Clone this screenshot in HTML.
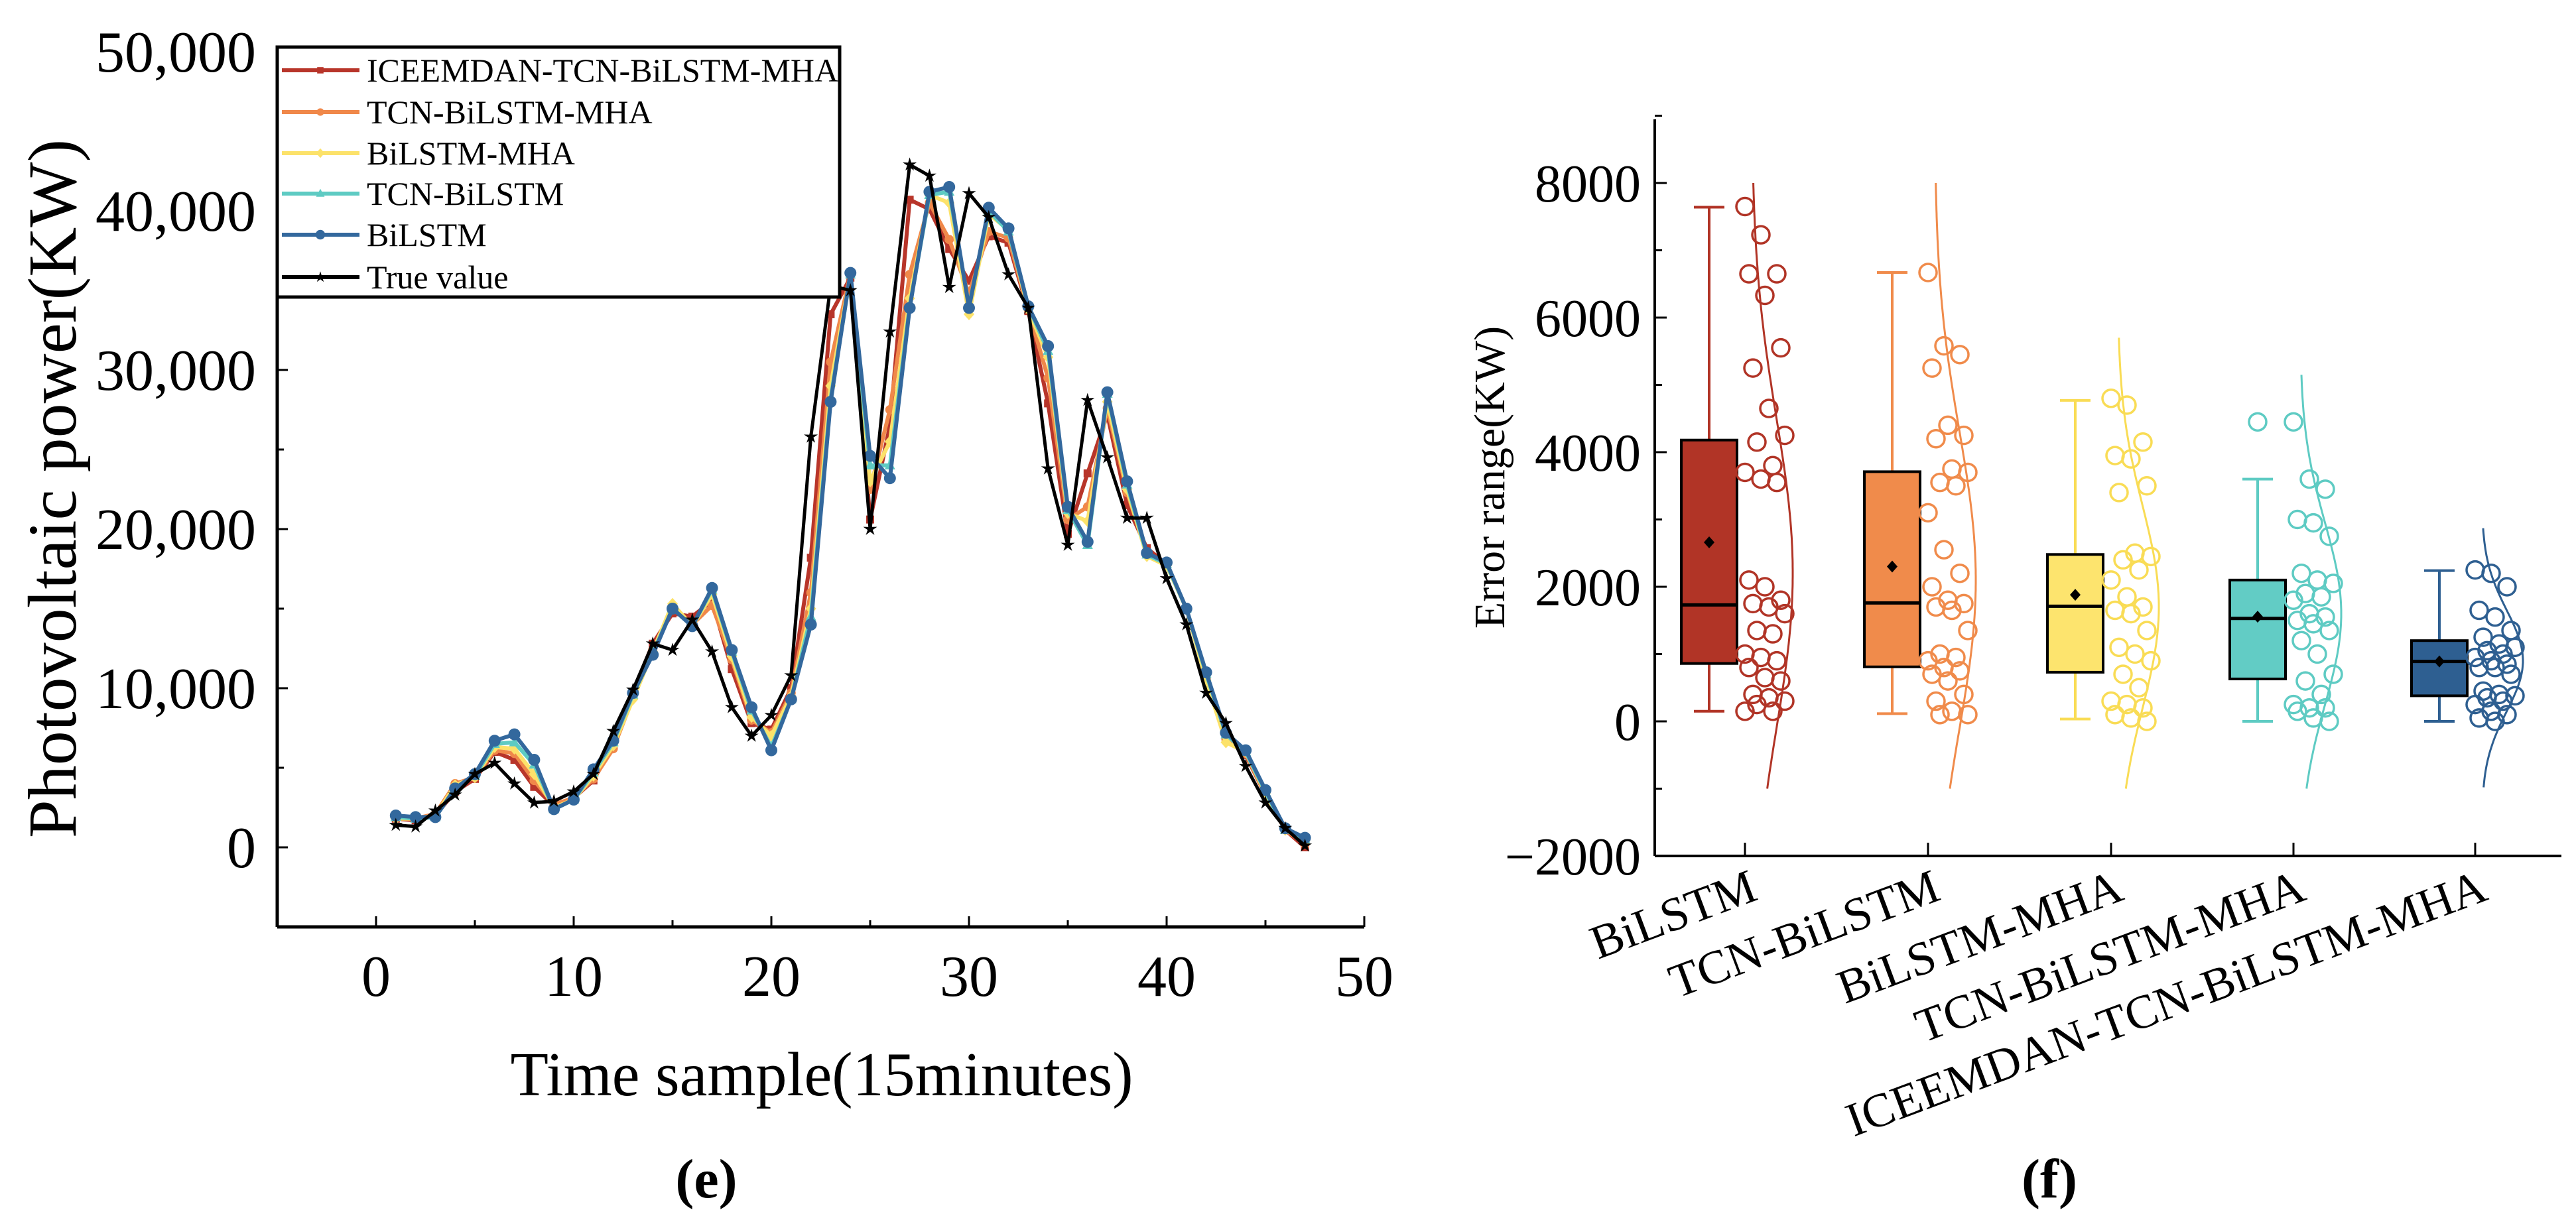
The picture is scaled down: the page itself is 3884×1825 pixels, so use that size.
<!DOCTYPE html>
<html><head><meta charset="utf-8">
<style>
html,body{margin:0;padding:0;background:#fff;}
svg{display:block;font-family:"Liberation Serif",serif;}
</style></head>
<body>
<svg id="root" width="3884" height="1825" viewBox="0 0 3884 1825" xmlns="http://www.w3.org/2000/svg">
<g id="left"></g>
<g id="right"></g>
</svg>
<script>
// ---------- Left chart data ----------
const xSamples = [1,2,3,4,5,6,7,8,9,10,11,12,13,14,15,16,17,18,19,20,21,22,23,24,25,26,27,28,29,30,31,32,33,34,35,36,37,38,39,40,41,42,43,44,45,46,47];
const trueValue = [1400,1300,2300,3300,4600,5300,4000,2800,2900,3500,4600,7300,9900,12800,12400,14300,12300,8800,7000,8300,10800,25800,35300,35000,20000,32400,42900,42200,35200,41100,39600,36000,33900,23800,19000,28100,24500,20700,20700,16900,14000,9700,7800,5100,2800,1200,100];
const bilstm = [2000,1900,1900,3700,4600,6700,7100,5500,2400,3000,4900,6700,9700,12100,15000,13900,16300,12400,8800,6100,9300,14000,28000,36100,24600,23200,33900,41200,41500,33900,40200,38900,34000,31500,21400,19200,28600,23000,18500,17900,15000,11000,7200,6100,3600,1200,600];
const tcnBilstm = [1900,1800,1900,3700,4500,6500,6600,5200,2400,3000,4700,6600,9600,12200,15000,13900,16200,12300,8600,6300,9300,14500,28200,36000,24000,24000,34000,41000,41200,34000,40000,38700,34000,31200,21200,19000,28500,22800,18400,17800,15000,10900,7100,6000,3500,1100,500];
const bilstmMha = [1800,1800,2000,3900,4400,6300,6200,4600,2500,3000,4500,6400,9300,12300,15300,13900,15900,12000,8200,7000,9500,15000,29000,36000,23000,25500,34500,41000,40500,33500,39800,38800,33800,30800,21000,20500,28000,22500,18300,17700,15000,10500,6600,6000,3400,1100,400];
const tcnBilstmMha = [1900,1800,2100,4000,4400,6100,5900,4200,2700,3100,4300,6200,9400,12400,15100,14000,15200,11800,8000,7200,9700,16000,30500,36000,22500,27500,36000,40500,38200,34800,38700,38300,33800,29500,20600,21400,27600,22300,18500,17800,15000,10600,6800,5900,3300,1100,200];
const iceemdan = [1800,1700,2000,3500,4300,6000,5500,3800,2600,3100,4200,6500,9700,12800,14700,14500,15500,11200,7800,7400,10000,18200,33500,35800,20600,26500,40700,40100,37600,35600,38400,38000,33700,27900,19700,23500,27200,21500,18800,17800,15000,10600,7000,5800,3300,1100,0];
const yTicksL = [0,10000,20000,30000,40000,50000];
const yTickLabelsL = ["0","10,000","20,000","30,000","40,000","50,000"];
const xTicksL = [0,10,20,30,40,50];
const legendNames = ["ICEEMDAN-TCN-BiLSTM-MHA","TCN-BiLSTM-MHA","BiLSTM-MHA","TCN-BiLSTM","BiLSTM","True value"];

// ---------- Right chart data ----------
const categories = ["BiLSTM","TCN-BiLSTM","BiLSTM-MHA","TCN-BiLSTM-MHA","ICEEMDAN-TCN-BiLSTM-MHA"];
const whiskerHigh = [7640,6670,4770,3600,2240];
const q3 = [4180,3710,2480,2100,1200];
const median = [1730,1760,1710,1530,890];
const q1 = [860,810,730,630,380];
const whiskerLow = [150,115,35,0,0];
const means = [2660,2300,1880,1555,890];
const outliers = [[],[],[],[4450],[]];
const curveTop = [8000,8000,5700,5150,2870];
const curveMu = [2200,2100,1700,1600,900];
const curveSigma = [2300,2200,1500,1350,750];
const pts0 = [7650,7230,6650,6650,6330,5550,5250,4650,4250,4150,3800,3700,3600,3550,2100,2000,1800,1750,1700,1600,1350,1300,1000,950,900,800,650,600,400,350,300,250,150,150];
const pts1 = [6670,5580,5450,5250,4400,4250,4200,3750,3700,3550,3500,3100,2550,2200,2000,1800,1750,1700,1650,1350,1000,950,900,800,750,700,600,400,300,150,100,100];
const pts2 = [4800,4700,4150,3950,3900,3500,3400,2500,2450,2400,2250,2100,1850,1700,1650,1600,1350,1100,1000,900,700,500,300,250,200,100,50,0];
const pts3 = [4450,3600,3450,3000,2950,2750,2200,2100,2050,1900,1850,1800,1600,1550,1500,1450,1350,1200,1000,700,600,400,250,200,200,150,50,0];
const pts4 = [2250,2200,2000,1650,1550,1350,1250,1150,1100,1050,1000,950,900,850,800,800,700,450,400,380,350,300,250,150,100,50,0];
const yTicksR = [-2000,0,2000,4000,6000,8000];

const NS="http://www.w3.org/2000/svg";
function mk(tag,parent,attrs){const e=document.createElementNS(NS,tag);for(const k in attrs)e.setAttribute(k,attrs[k]);parent.appendChild(e);return e;}

// ===== LEFT =====
(function(){
const g=document.getElementById('left');
const X=v=>567+v*29.8, Y=v=>1278-v*0.024;
const x0=X(-5), x1=X(50), yb=Y(-5000), yt=70;
let ax=mk('line',g,{x1:x0,y1:yb,x2:x1,y2:yb,stroke:'#000','stroke-width':5});

let ay=mk('line',g,{x1:x0,y1:yb,x2:x0,y2:yt,stroke:'#000','stroke-width':5});

for(let v=0;v<=50;v+=5){const l=mk('line',g,{x1:X(v),y1:yb,x2:X(v),y2:yb-(v%10===0?16:10),stroke:'#000','stroke-width':3});
}
xTicksL.forEach(v=>{const t=mk('text',g,{x:X(v),y:1502,'text-anchor':'middle','font-size':88});t.textContent=v;
});
for(let v=-5000;v<=50000;v+=5000){const l=mk('line',g,{x1:x0,y1:Y(v),x2:x0+(v%10000===0?16:10),y2:Y(v),stroke:'#000','stroke-width':3});
}
yTicksL.forEach((v,i)=>{const t=mk('text',g,{x:386,y:Y(v)+30,'text-anchor':'end','font-size':88});t.textContent=yTickLabelsL[i];
});
let yl=mk('text',g,{x:0,y:0,'text-anchor':'middle','font-size':104,transform:'translate(114,737) rotate(-90)'});yl.textContent='Photovoltaic power(KW)';

let xl=mk('text',g,{x:1239,y:1652,'text-anchor':'middle','font-size':94});xl.textContent='Time sample(15minutes)';

let cap=mk('text',g,{x:1065,y:1806,'text-anchor':'middle','font-size':84,'font-weight':'bold'});cap.textContent='(e)';


const series=[
 {d:iceemdan,c:'#b8352a',m:'sq',n:'series-iceemdan'},
 {d:tcnBilstmMha,c:'#f0884a',m:'ci',n:'series-tcn-bilstm-mha'},
 {d:bilstmMha,c:'#fce26a',m:'di',n:'series-bilstm-mha'},
 {d:tcnBilstm,c:'#5ecbc3',m:'tr',n:'series-tcn-bilstm'},
 {d:bilstm,c:'#33689d',m:'big',n:'series-bilstm'},
 {d:trueValue,c:'#000',m:'st',n:'series-true-value'}];
function marker(par,m,cx,cy,c,s){
 s=s||1;let e;
 if(m==='sq')e=mk('rect',par,{x:cx-6*s,y:cy-6*s,width:12*s,height:12*s,fill:c});
 else if(m==='ci')e=mk('circle',par,{cx:cx,cy:cy,r:7*s,fill:c});
 else if(m==='big')e=mk('circle',par,{cx:cx,cy:cy,r:9*s,fill:c});
 else if(m==='di')e=mk('polygon',par,{points:`${cx},${cy-9*s} ${cx+8*s},${cy} ${cx},${cy+9*s} ${cx-8*s},${cy}`,fill:c});
 else if(m==='tr')e=mk('polygon',par,{points:`${cx},${cy-9*s} ${cx+8*s},${cy+6*s} ${cx-8*s},${cy+6*s}`,fill:c});
 else {let p=[];for(let k=0;k<10;k++){const r=k%2?4*s:11*s;const a=-Math.PI/2+k*Math.PI/5;p.push((cx+r*Math.cos(a)).toFixed(1)+','+(cy+r*Math.sin(a)).toFixed(1));}
  e=mk('polygon',par,{points:p.join(' '),fill:c});}
 return e;}
series.forEach(s=>{
 const sg=mk('g',g,{});
 const pl=mk('polyline',sg,{points:s.d.map((v,i)=>X(xSamples[i])+','+Y(v)).join(' '),fill:'none',stroke:s.c,'stroke-width':s.m==='st'?5:6,'stroke-linejoin':'round'});
 
 s.d.forEach((v,i)=>{const e=marker(sg,s.m,X(xSamples[i]),Y(v),s.c);
  });
});
const lg=mk('g',g,{});
const lb=mk('rect',lg,{x:418,y:71,width:848,height:377,fill:'#fff',stroke:'#000','stroke-width':5});

const rowsY=[106,169,231,292,354,418];
legendNames.forEach((n,i)=>{const s=series[i];const e=mk('g',lg,{});
 
 mk('line',e,{x1:425,y1:rowsY[i],x2:542,y2:rowsY[i],stroke:s.c,'stroke-width':6});
 marker(e,s.m,483,rowsY[i],s.c,0.8);
 const t=mk('text',e,{x:553,y:rowsY[i]+17,'font-size':50});t.textContent=n;});
})();

// ===== RIGHT =====
(function(){
const g=document.getElementById('right');
const Y=v=>1088-v*0.1015;
const ticksX=[2631,2907,3183,3458,3732];
const colors=['#b13426','#f08b4b','#fde46e','#62ccc5','#2e5f91'];
const strokes=['#b13426','#f08b4b','#f9dc55','#5ecbc3','#2e5f91'];
const pts=[pts0,pts1,pts2,pts3,pts4];
const axX=2495, axB=Y(-2000);
let a1=mk('line',g,{x1:axX,y1:180,x2:axX,y2:axB,stroke:'#000','stroke-width':4});

let a2=mk('line',g,{x1:axX,y1:axB,x2:3862,y2:axB,stroke:'#000','stroke-width':4});

for(let v=-2000;v<=9000;v+=1000){const l=mk('line',g,{x1:axX,y1:Y(v),x2:axX+(v%2000===0?18:11),y2:Y(v),stroke:'#000','stroke-width':3});
 }
yTicksR.forEach(v=>{const t=mk('text',g,{x:2474,y:Y(v)+28,'text-anchor':'end','font-size':80});t.textContent=v<0?'\u22122000':String(v);
 });
let yl=mk('text',g,{x:0,y:0,'text-anchor':'middle','font-size':66,transform:'translate(2268,720) rotate(-90)'});yl.textContent='Error range(KW)';

let cap=mk('text',g,{x:3090,y:1806,'text-anchor':'middle','font-size':84,'font-weight':'bold'});cap.textContent='(f)';

categories.forEach((c,i)=>{
 const tx=ticksX[i], bx=tx-54, col=colors[i], sc=strokes[i];
 const grp=mk('g',g,{});
 const tk=mk('line',grp,{x1:tx,y1:axB,x2:tx,y2:axB-20,stroke:'#000','stroke-width':3});
 
 const lab=mk('text',grp,{x:0,y:0,'text-anchor':'end','font-size':72,transform:`translate(${tx+22},${1356}) rotate(-20.5)`});lab.textContent=c;
 
 const w=mk('path',grp,{d:`M${bx},${Y(whiskerHigh[i])}V${Y(q3[i])}M${bx},${Y(q1[i])}V${Y(whiskerLow[i])}M${bx-23},${Y(whiskerHigh[i])}H${bx+23}M${bx-23},${Y(whiskerLow[i])}H${bx+23}`,stroke:sc,'stroke-width':4,fill:'none'});
 
 const b=mk('rect',grp,{x:bx-42,y:Y(q3[i]),width:84,height:Y(q1[i])-Y(q3[i]),fill:col,stroke:'#000','stroke-width':4});
 
 const md=mk('line',grp,{x1:bx-42,y1:Y(median[i]),x2:bx+42,y2:Y(median[i]),stroke:'#000','stroke-width':5});
 
 const my=Y(means[i]);
 const mn=mk('polygon',grp,{points:`${bx},${my-9} ${bx+8},${my} ${bx},${my+9} ${bx-8},${my}`,fill:'#000'});
 
 outliers[i].forEach(v=>{const o=mk('circle',grp,{cx:bx,cy:Y(v),r:13,fill:'none',stroke:sc,'stroke-width':3.5});
  });
 let d='';for(let v=curveTop[i];v>=-1000;v-=50){const gx=tx+10+62*Math.exp(-0.5*Math.pow((v-curveMu[i])/curveSigma[i],2));d+=(d?'L':'M')+gx.toFixed(1)+','+Y(v).toFixed(1);}
 const cv=mk('path',grp,{d:d,fill:'none',stroke:sc,'stroke-width':3});
 
 pts[i].forEach((v,k)=>{const jx=tx+((k*37)%11)*6;const p=mk('circle',grp,{cx:jx,cy:Y(v),r:13,fill:'none',stroke:sc,'stroke-width':3.5});
  });
});
})();
</script>
</body></html>
